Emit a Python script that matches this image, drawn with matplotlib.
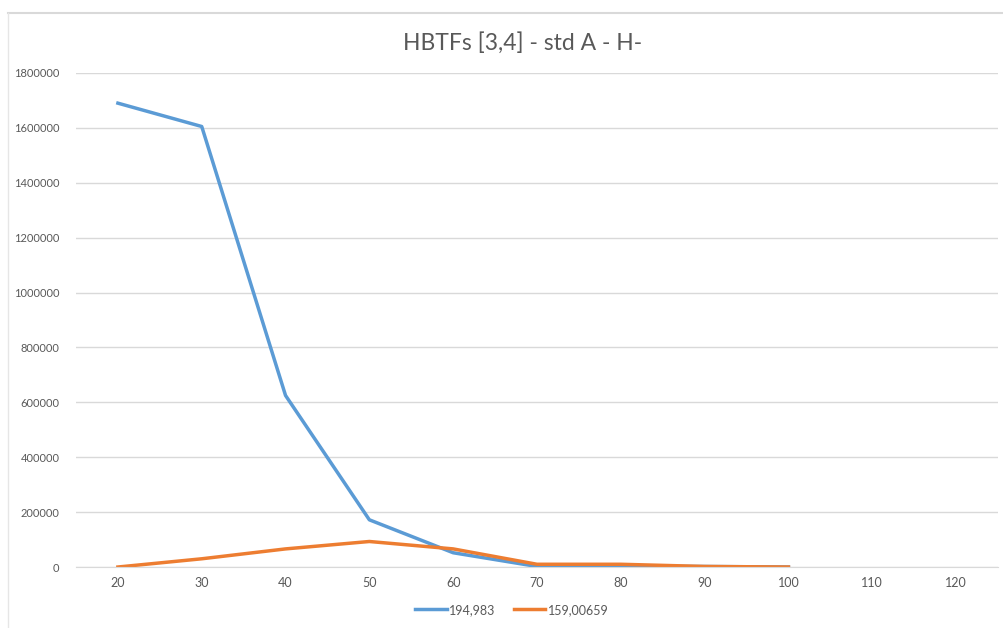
import matplotlib
matplotlib.use("Agg")
import matplotlib.pyplot as plt
from matplotlib.lines import Line2D

categories = ["20", "30", "40", "50", "60", "70", "80", "90", "100", "110", "120"]
series_blue_name = "194,983"
series_blue = [1690000, 1605000, 625000, 172000, 52000, 2000, 3000, 2000, 0]
series_orange_name = "159,00659"
series_orange = [0, 30000, 66000, 93000, 66000, 10000, 10000, 2000, 0]
y_ticks = [0, 200000, 400000, 600000, 800000, 1000000, 1200000, 1400000, 1600000, 1800000]
title = "HBTFs [3,4] - std A - H-"

plt.rcParams['font.family'] = ['Lato', 'DejaVu Sans']
txt = "#595959"
grid = "#d9d9d9"

fig = plt.figure(figsize=(10.04, 6.28), dpi=100)
ax = fig.add_axes([0.0757, 0.0971, 0.9183, 0.7867])

x = list(range(len(categories)))
ax.plot(x[:len(series_blue)], series_blue, color="#5b9bd5", lw=2.5, solid_joinstyle="round", label=series_blue_name)
ax.plot(x[:len(series_orange)], series_orange, color="#ed7d31", lw=2.5, solid_joinstyle="round", label=series_orange_name)

ax.set_xlim(-0.5, len(categories) - 0.5)
ax.set_ylim(0, 1800000)
ax.set_yticks(y_ticks)
ax.set_yticklabels([str(v) for v in y_ticks], fontsize=8, color=txt)
ax.set_xticks(x)
ax.set_xticklabels(categories, fontsize=9, color=txt)
ax.tick_params(axis="both", length=0)
ax.tick_params(axis="y", pad=12)
ax.tick_params(axis="x", pad=7)
ax.grid(axis="y", color=grid, lw=1)
ax.set_axisbelow(True)
for s in ["top", "right", "left"]:
    ax.spines[s].set_visible(False)
ax.spines["bottom"].set_color(grid)

fig.text(0.52, 0.931, title, ha="center", va="center", fontsize=16.5, color=txt)

leg = fig.legend(handles=[Line2D([], [], color="#5b9bd5", lw=2.5), Line2D([], [], color="#ed7d31", lw=2.5)],
                 labels=[series_blue_name, series_orange_name], loc="center", bbox_to_anchor=(0.51, 0.029),
                 ncol=2, frameon=False, fontsize=9, handlelength=2.5, handletextpad=0.2, columnspacing=1.5)
for t in leg.get_texts():
    t.set_color(txt)

# chart border (top and left)
fig.add_artist(Line2D([0.008, 1.0], [1 - 13/628, 1 - 13/628], color="#d9d9d9", lw=1.5, transform=fig.transFigure))
fig.add_artist(Line2D([0.008, 0.008], [0.0, 1 - 13/628], color="#e6e6e6", lw=1, transform=fig.transFigure))

fig.savefig("out.png", dpi=100)
